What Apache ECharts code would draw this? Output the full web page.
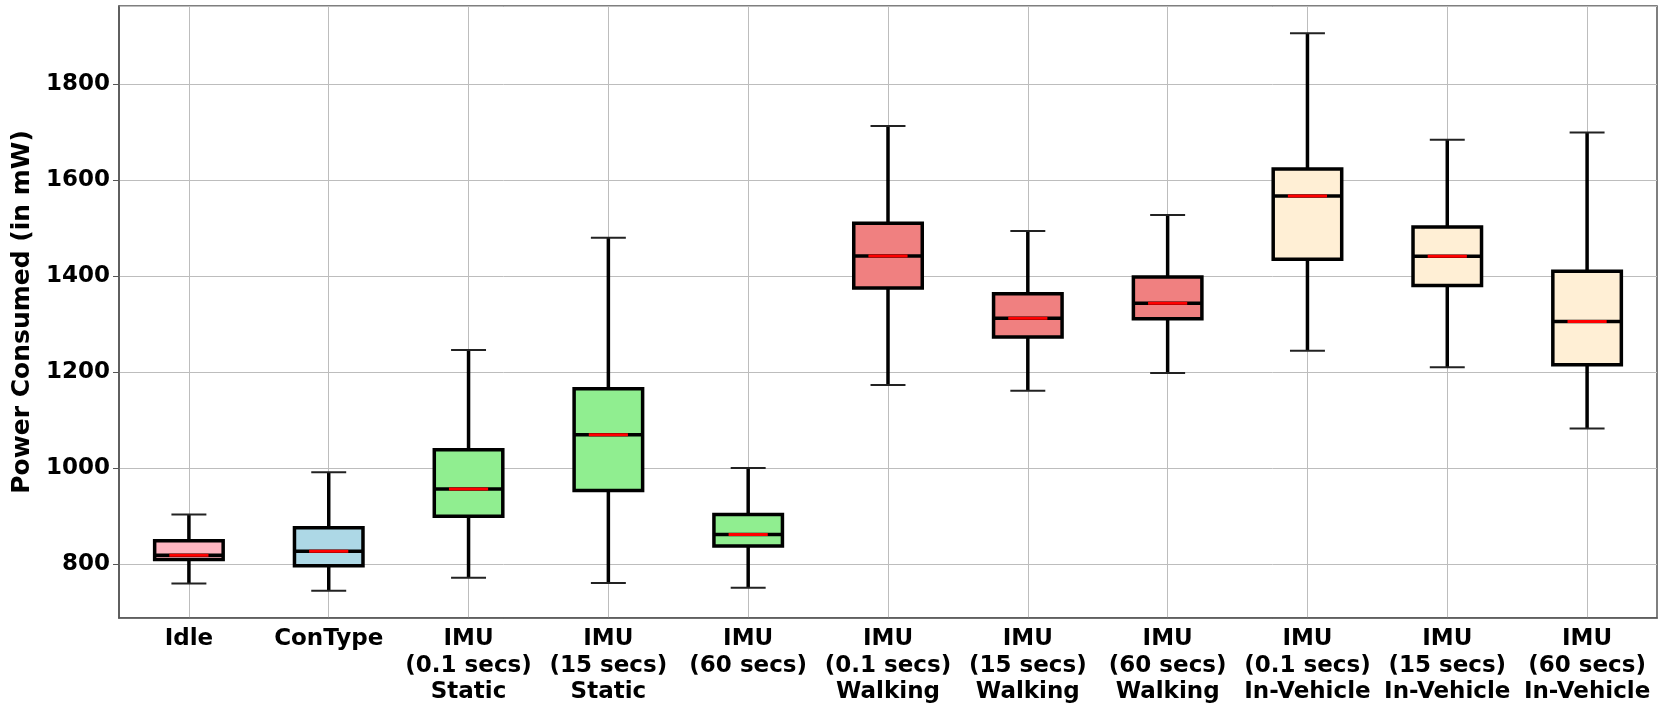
<!DOCTYPE html>
<html>
<head>
<meta charset="utf-8">
<script src="https://cdn.jsdelivr.net/npm/echarts@6/dist/echarts.min.js"></script>
<style>
  html, body { margin: 0; padding: 0; background: #fff; }
  #chart { width: 1669px; height: 704px; }
</style>
</head>
<body>
<div id="chart"></div>
<script>
// categories and box statistics (mW)
const categories = [
    'Idle',
    'ConType',
    'IMU\n(0.1 secs)\nStatic',
    'IMU\n(15 secs)\nStatic',
    'IMU\n(60 secs)',
    'IMU\n(0.1 secs)\nWalking',
    'IMU\n(15 secs)\nWalking',
    'IMU\n(60 secs)\nWalking',
    'IMU\n(0.1 secs)\nIn-Vehicle',
    'IMU\n(15 secs)\nIn-Vehicle',
    'IMU\n(60 secs)\nIn-Vehicle'
];
const whiskerLow  = [759, 744, 771, 760, 750, 1173, 1161, 1198, 1244, 1210, 1082];
const q1          = [809, 796, 899, 953, 837, 1375, 1273, 1311, 1435, 1380, 1215];
const median      = [818, 826, 956, 1069, 861, 1442, 1312, 1343, 1567, 1441, 1305];
const q3          = [848, 875, 1038, 1165, 903, 1510, 1363, 1398, 1623, 1502, 1410];
const whiskerHigh = [903, 991, 1246, 1480, 1000, 1713, 1494, 1527, 1906, 1684, 1699];
const boxColors = [
    '#FFB6C1', '#ADD8E6',
    '#90EE90', '#90EE90', '#90EE90',
    '#F08080', '#F08080', '#F08080',
    '#FFEFD5', '#FFEFD5', '#FFEFD5'
];

const chart = echarts.init(document.getElementById('chart'));

const boxData = categories.map((c, i) => [i, whiskerLow[i], q1[i], median[i], q3[i], whiskerHigh[i]]);

// draws one matplotlib-style box: whiskers, thin caps, box, black median, red median
function renderBox(params, api) {
    const x = api.value(0);
    const band = api.size([1, 0])[0];
    const pLow = api.coord([x, api.value(1)]);
    const pQ1 = api.coord([x, api.value(2)]);
    const pMed = api.coord([x, api.value(3)]);
    const pQ3 = api.coord([x, api.value(4)]);
    const pHigh = api.coord([x, api.value(5)]);
    const cx = pLow[0];
    const boxW = band * 0.49;
    const capW = band * 0.25;
    const redW = band * 0.28;
    const line = (x1, y1, x2, y2, color, w) => ({
        type: 'line',
        shape: { x1: x1, y1: y1, x2: x2, y2: y2 },
        style: { stroke: color, lineWidth: w }
    });
    return {
        type: 'group',
        children: [
            line(cx, pLow[1], cx, pQ1[1], '#000', 3.5),
            line(cx, pQ3[1], cx, pHigh[1], '#000', 3.5),
            line(cx - capW / 2, pLow[1], cx + capW / 2, pLow[1], '#222', 2),
            line(cx - capW / 2, pHigh[1], cx + capW / 2, pHigh[1], '#222', 2),
            {
                type: 'rect',
                shape: { x: cx - boxW / 2, y: pQ3[1], width: boxW, height: pQ1[1] - pQ3[1] },
                style: { fill: boxColors[params.dataIndex], stroke: '#000', lineWidth: 3.5 }
            },
            line(cx - boxW / 2, pMed[1], cx + boxW / 2, pMed[1], '#000', 3.5),
            line(cx - redW / 2, pMed[1], cx + redW / 2, pMed[1], '#ff0000', 3)
        ]
    };
}

const font = { fontFamily: 'DejaVu Sans', fontWeight: 'bold', color: '#000' };

const option = {
    animation: false,
    backgroundColor: '#fff',
    grid: {
        left: 119, right: 12, top: 6, bottom: 86,
        show: true, borderColor: '#555', borderWidth: 1.5,
        outerBoundsMode: 'none'
    },
    xAxis: {
        type: 'category',
        data: categories,
        boundaryGap: true,
        axisLine: { lineStyle: { color: '#555', width: 1.5 } },
        axisTick: { alignWithLabel: true, length: 6, lineStyle: { color: '#555', width: 1 } },
        axisLabel: { ...font, fontSize: 23, lineHeight: 26.5, margin: 8, interval: 0 },
        splitLine: { show: true, alignWithLabel: true, lineStyle: { color: '#bdbdbd', width: 1 } }
    },
    yAxis: {
        type: 'value',
        min: 687,
        max: 1963,
        splitNumber: 6,
        name: 'Power Consumed (in mW)',
        nameLocation: 'middle',
        nameGap: 65,
        nameTextStyle: { ...font, fontSize: 25 },
        axisLine: { show: true, lineStyle: { color: '#555', width: 1.5 } },
        axisTick: { show: true, length: 6, lineStyle: { color: '#555', width: 1 } },
        axisLabel: {
            ...font, fontSize: 23, margin: 9,
            showMinLabel: false, showMaxLabel: false,
            formatter: (v) => String(v)
        },
        splitLine: { show: true, lineStyle: { color: '#bdbdbd', width: 1 } }
    },
    series: [
        {
            type: 'custom',
            renderItem: renderBox,
            encode: { x: 0, y: [1, 2, 3, 4, 5] },
            data: boxData
        }
    ]
};

chart.setOption(option);
</script>
</body>
</html>
